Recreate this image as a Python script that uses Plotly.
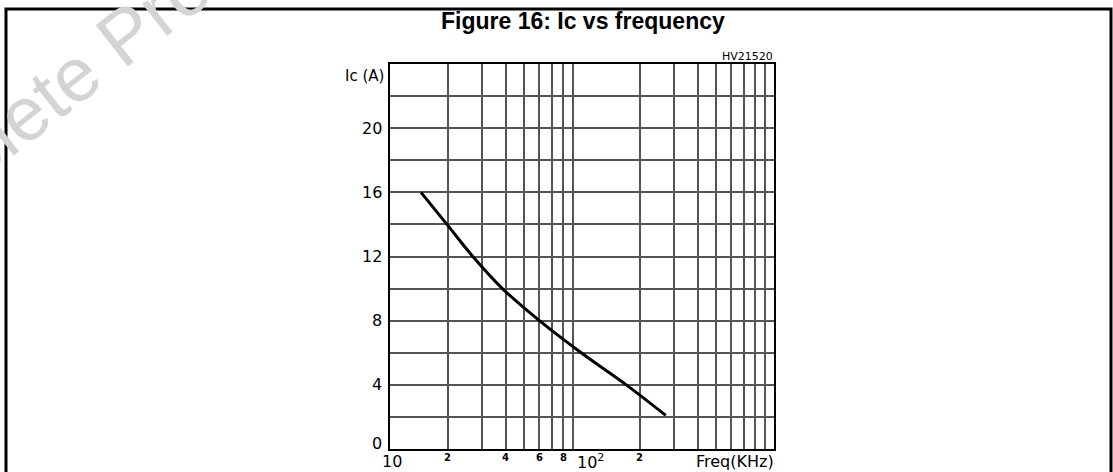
import math
import plotly.graph_objects as go

# ---- data ----
freq_khz = [14.5, 19.8, 27, 38.5, 60, 99, 170, 273]
ic_a = [16, 14, 12, 10, 8, 6, 4, 2.1]

x_grid_vals = [20, 30, 40, 50, 60, 70, 80, 90, 200, 300, 400, 500, 600, 700, 800, 900]
y_grid_vals = [2, 4, 6, 8, 10, 12, 14, 16, 18, 20, 22]
y_label_vals = [0, 4, 8, 12, 16, 20]
x_minor_label_vals = [20, 40, 60, 80, 200]
x_minor_label_text = ["2", "4", "6", "8", "2"]
x_major_label_vals = [10, 100]
x_major_label_text = ["10", "10<sup>2</sup>"]

# ---- layout geometry (window pixels) ----
W, H = 1113, 472
L, R, T, B = 390, 339, 64, 23
PW, PH = W - L - R, H - T - B


def px(xp):
    return (xp - L) / PW


def py(yp):
    return (T + PH - yp) / PH


FONT = "Liberation Sans, Arial, sans-serif"
WFONT = "DejaVu Sans, Verdana, sans-serif"

fig = go.Figure()
fig.add_trace(go.Scatter(
    x=freq_khz, y=ic_a, mode="lines",
    line=dict(color="black", width=3, shape="spline", smoothing=1.0),
    showlegend=False, hoverinfo="skip",
))

fig.update_layout(
    width=W, height=H,
    margin=dict(l=L, r=R, t=T, b=B, pad=0),
    paper_bgcolor="white", plot_bgcolor="white",
    font=dict(family=FONT, color="black"),
    xaxis=dict(
        type="log", range=[1, 3],
        tickvals=x_grid_vals, showticklabels=False, ticks="",
        showgrid=True, gridcolor="#555555", gridwidth=2,
        showline=True, linecolor="black", linewidth=2, mirror=True,
        zeroline=False,
    ),
    yaxis=dict(
        range=[0, 24],
        tickvals=y_grid_vals, showticklabels=False, ticks="",
        showgrid=True, gridcolor="#555555", gridwidth=2,
        showline=True, linecolor="black", linewidth=2, mirror=True,
        zeroline=False,
    ),
)

ann = []
# title
ann.append(dict(text="<b>Figure 16: Ic vs frequency</b>", xref="paper", yref="paper",
                x=px(583), y=py(21), xanchor="center", yanchor="middle",
                showarrow=False, font=dict(size=23, family=FONT)))
ann.append(dict(text="HV21520", xref="paper", yref="paper",
                x=px(775), y=py(56), xanchor="right", yanchor="middle",
                showarrow=False, font=dict(size=11, family=WFONT)))
# y labels
for v in y_label_vals:
    ann.append(dict(text=str(v), xref="paper", yref="y", x=px(384), y=v,
                    xanchor="right", yanchor="middle", showarrow=False,
                    yshift=6 if v == 0 else 0,
                    font=dict(size=16, family=WFONT)))
ann.append(dict(text="Ic (A)", xref="paper", yref="paper", x=px(386), y=py(76),
                xanchor="right", yanchor="middle", showarrow=False,
                font=dict(size=15, family=WFONT)))
# x labels
for v, t in zip(x_minor_label_vals, x_minor_label_text):
    ann.append(dict(text="<b>" + t + "</b>", xref="x", yref="paper", x=math.log10(v), y=py(457),
                    xanchor="center", yanchor="middle", showarrow=False,
                    font=dict(size=10, family=WFONT)))
for v, t in zip(x_major_label_vals, x_major_label_text):
    ann.append(dict(text=t, xref="x", yref="paper", x=math.log10(v), y=py(462),
                    xanchor="left", yanchor="middle", showarrow=False,
                    xshift=-10 if v == 10 else -7,
                    font=dict(size=16, family=WFONT)))
ann.append(dict(text="Freq(KHz)", xref="paper", yref="paper", x=px(776), y=py(462),
                xanchor="right", yanchor="middle", showarrow=False,
                font=dict(size=16, family=WFONT)))
# watermark
ann.append(dict(text="Obsolete Product(s)", xref="paper", yref="paper",
                x=px(117), y=py(42), xanchor="center", yanchor="middle",
                showarrow=False, textangle=-38,
                font=dict(size=76, family=FONT, color="#d4d4d4")))
fig.update_layout(annotations=ann)

# outer frame
fig.add_shape(type="rect", xref="paper", yref="paper",
              x0=px(6), x1=px(1111), y0=py(495), y1=py(9),
              line=dict(color="black", width=3), fillcolor="rgba(0,0,0,0)", layer="below")

fig.write_html("out.html",
               config={"displayModeBar": False, "staticPlot": True},
               post_script="document.body.style.margin='0';document.body.style.overflow='hidden';")
